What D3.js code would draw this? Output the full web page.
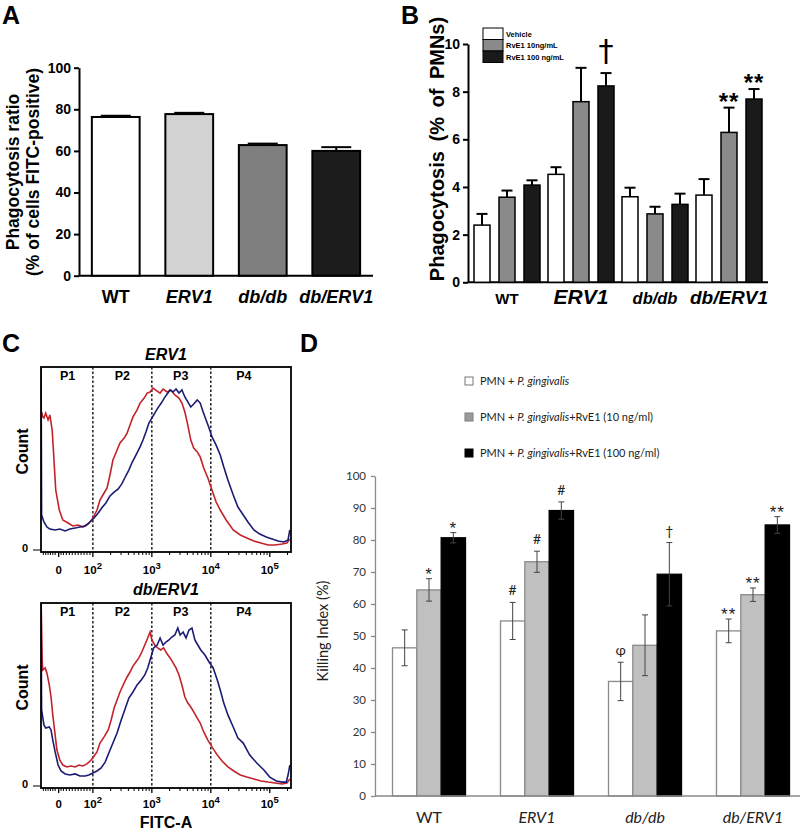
<!DOCTYPE html>
<html><head><meta charset="utf-8">
<script src="https://cdn.jsdelivr.net/npm/d3@7"></script>
<style>body{margin:0;background:#fff}svg{display:block}</style>
</head><body>
<svg id="fig" width="800" height="833"></svg>
<script>
// ---------------- DATA ----------------
const groups = ["WT", "ERV1", "db/db", "db/ERV1"];
const groupItalic = [false, true, true, true];

// Panel A
const aValues = [76.3, 77.7, 62.8, 60.0];
const aErrors = [0.6, 0.6, 0.7, 1.8];
const aTicks = [0, 20, 40, 60, 80, 100];
const aColors = ["#ffffff", "#d2d2d2", "#7f7f7f", "#1c1c1c"];

// Panel B
const bSeries = ["Vehicle", "RvE1 10ng/mL", "RvE1 100 ng/mL"];
const bVehicle = [2.40, 4.53, 3.59, 3.66];
const bVehicleErr = [0.47, 0.30, 0.38, 0.67];
const bRvE1_10 = [3.57, 7.58, 2.87, 6.29];
const bRvE1_10Err = [0.28, 1.42, 0.30, 1.04];
const bRvE1_100 = [4.08, 8.24, 3.27, 7.69];
const bRvE1_100Err = [0.20, 0.54, 0.45, 0.42];
const bTicks = [0, 2, 4, 6, 8, 10];
const bColors = ["#ffffff", "#8a8a8a", "#1a1a1a"];
const bMarks = [{g: 1, s: 2, t: "†"}, {g: 3, s: 1, t: "**"}, {g: 3, s: 2, t: "**"}];

// Panel C (FITC-A histograms, x in decades, count in % of plot height)
const fitcTickVals = [1.42, 2, 3, 4, 5];
const fitcTickBase = ["0", "10", "10", "10", "10"];
const fitcTickExp = ["", "2", "3", "4", "5"];
const fitcLinearMinor = [1.16, 1.2, 1.24, 1.28, 1.32, 1.36, 1.46, 1.5, 1.55, 1.6, 1.65, 1.7, 1.75, 1.8, 1.85, 1.9, 1.95];
const fitcDecades = [2, 3, 4, 5];
const fitcMultipliers = [2, 3, 4, 5, 6, 7, 8, 9];
const gateBounds = [2, 3, 4];
const gateLabels = ["P1", "P2", "P3", "P4"];
const gateLabelPos = [1.57, 2.5, 3.49, 4.56];

const erv1Red = [[1.13,75.7],[1.15,73],[1.17,72.4],[1.20,75.1],[1.24,71.4],[1.27,74.1],[1.31,65.9],[1.34,49.7],[1.37,33.5],[1.43,22.7],[1.49,17.3],[1.58,15.7],[1.66,14.1],[1.75,14.6],[1.83,13.5],[1.92,15.1],[1.99,17.8],[2.07,22.7],[2.12,28.1],[2.19,31.9],[2.24,34.6],[2.29,41.6],[2.34,49.7],[2.41,55.1],[2.46,58.9],[2.53,61.6],[2.58,64.3],[2.63,68.6],[2.68,73.0],[2.75,76.8],[2.80,80.5],[2.87,83.2],[2.92,85.9],[2.97,86.5],[3.02,88.6],[3.09,87.0],[3.14,85.9],[3.19,88.1],[3.26,86.5],[3.32,87.6],[3.39,84.9],[3.46,83.2],[3.51,80.5],[3.56,75.7],[3.61,68.6],[3.66,60.5],[3.71,56.2],[3.77,54.1],[3.82,51.4],[3.88,45.4],[3.95,40.0],[4.02,33.5],[4.09,27.0],[4.16,22.7],[4.26,17.3],[4.38,11.9],[4.50,9.2],[4.61,7.6],[4.73,5.9],[4.85,4.9],[4.97,3.8],[5.09,3.8],[5.21,4.3],[5.29,4.9],[5.34,7.0]];
const erv1Blue = [[1.12,120],[1.13,20.0],[1.17,16.2],[1.22,13.5],[1.27,12.4],[1.36,11.9],[1.44,12.4],[1.53,11.4],[1.61,12.4],[1.70,13.0],[1.78,13.5],[1.87,14.1],[1.95,16.2],[2.02,18.4],[2.09,21.1],[2.15,23.8],[2.22,26.5],[2.29,30.3],[2.36,32.4],[2.43,34.1],[2.49,36.8],[2.54,40.0],[2.61,44.3],[2.66,48.1],[2.73,52.4],[2.80,56.8],[2.85,60.5],[2.90,64.9],[2.95,69.7],[3.00,72.4],[3.05,75.1],[3.10,77.8],[3.16,80.5],[3.21,83.2],[3.26,85.4],[3.31,87.6],[3.36,86.5],[3.41,88.1],[3.46,85.9],[3.51,87.6],[3.56,83.8],[3.61,81.1],[3.66,78.4],[3.71,80.0],[3.77,82.2],[3.82,80.5],[3.87,75.7],[3.92,71.4],[3.97,67.0],[4.02,62.2],[4.09,57.8],[4.16,52.4],[4.22,45.9],[4.29,38.9],[4.38,30.8],[4.46,24.3],[4.55,20.0],[4.63,16.2],[4.73,11.9],[4.83,9.7],[4.94,8.1],[5.04,7.0],[5.14,5.9],[5.24,5.4],[5.31,6.5],[5.34,11.9]];
const dbErv1Red = [[1.12,105],[1.14,69.2],[1.15,63.8],[1.19,64.9],[1.22,62.2],[1.26,55.7],[1.29,49.2],[1.32,39.5],[1.36,28.6],[1.39,20.5],[1.44,15.1],[1.49,12.4],[1.56,11.4],[1.63,11.9],[1.70,11.4],[1.76,12.4],[1.83,11.9],[1.90,13.0],[1.97,15.1],[2.02,17.3],[2.07,19.5],[2.12,24.3],[2.19,27.6],[2.26,31.4],[2.31,36.8],[2.36,43.2],[2.41,47.6],[2.46,51.9],[2.53,56.8],[2.58,60.0],[2.63,62.7],[2.68,65.9],[2.73,68.1],[2.78,70.3],[2.83,73.5],[2.88,77.3],[2.93,81.1],[2.97,84.3],[3.00,80.0],[3.05,77.3],[3.10,75.7],[3.15,74.6],[3.20,75.7],[3.26,72.4],[3.31,70.3],[3.36,67.6],[3.41,64.9],[3.46,61.1],[3.51,55.7],[3.56,49.2],[3.61,45.9],[3.66,43.8],[3.71,41.1],[3.77,37.8],[3.82,35.1],[3.88,30.3],[3.95,25.9],[4.02,22.2],[4.11,17.8],[4.19,14.6],[4.29,11.4],[4.39,9.2],[4.50,7.0],[4.61,5.9],[4.73,4.9],[4.85,3.8],[4.97,3.2],[5.09,2.7],[5.21,2.2],[5.29,2.7],[5.34,4.9]];
const dbErv1Blue = [[1.12,105],[1.13,42.2],[1.17,34.1],[1.20,32.4],[1.26,33.0],[1.29,31.4],[1.32,25.9],[1.36,19.5],[1.41,12.4],[1.46,9.2],[1.53,7.6],[1.61,7.0],[1.70,7.6],[1.78,6.5],[1.87,6.5],[1.93,7.0],[2.00,8.1],[2.07,9.2],[2.14,10.8],[2.21,14.1],[2.27,18.9],[2.34,24.3],[2.41,29.7],[2.48,36.8],[2.54,42.2],[2.61,48.6],[2.68,51.9],[2.75,55.7],[2.82,58.4],[2.88,61.1],[2.93,64.9],[2.98,70.3],[3.03,75.7],[3.09,77.3],[3.14,81.1],[3.19,77.3],[3.24,78.9],[3.29,80.0],[3.34,81.6],[3.39,82.7],[3.44,86.5],[3.48,82.7],[3.53,84.3],[3.58,81.1],[3.63,85.4],[3.68,86.5],[3.73,80.0],[3.78,77.3],[3.83,74.6],[3.90,71.9],[3.97,68.1],[4.04,64.9],[4.11,58.4],[4.16,53.0],[4.22,45.9],[4.29,39.5],[4.38,33.0],[4.46,27.0],[4.55,24.3],[4.66,17.8],[4.78,13.5],[4.90,9.7],[5.00,5.9],[5.11,3.8],[5.21,3.2],[5.28,3.2],[5.31,7.0],[5.34,12.4]];

// Panel D
const dSeries = ["PMN + |P. gingivalis|", "PMN + |P. gingivalis|+RvE1 (10 ng/ml)", "PMN + |P. gingivalis|+RvE1 (100 ng/ml)"];
const dPg = [46.3, 54.7, 35.8, 51.6];
const dPgErr = [5.6, 5.8, 6.0, 3.7];
const dRv10 = [64.4, 73.2, 47.1, 62.9];
const dRv10Err = [3.5, 3.3, 9.5, 2.1];
const dRv100 = [80.7, 89.2, 69.3, 84.7];
const dRv100Err = [1.6, 2.7, 9.9, 2.6];
const dTicks = [0, 10, 20, 30, 40, 50, 60, 70, 80, 90, 100];
const dColors = ["#ffffff", "#c0c0c0", "#000000"];
const dMarks = [{g:0,s:1,t:"*"},{g:0,s:2,t:"*"},{g:1,s:0,t:"#"},{g:1,s:1,t:"#"},{g:1,s:2,t:"#"},{g:2,s:0,t:"φ"},{g:2,s:2,t:"†"},{g:3,s:0,t:"**"},{g:3,s:1,t:"**"},{g:3,s:2,t:"**"}];

// ---------------- DRAW ----------------
const ARIAL = "'Liberation Sans', Arial, Helvetica, sans-serif";
const CAL = "Lato, 'Open Sans', sans-serif";
const svg = d3.select("#fig");
svg.append("rect").attr("width", 800).attr("height", 833).attr("fill", "#fff");

[["A", 2, 24], ["B", 401, 24], ["C", 2, 352], ["D", 300, 352]].forEach(([t, x, y]) => {
  svg.append("text").attr("x", x).attr("y", y).text(t)
    .attr("font-family", ARIAL).attr("font-weight", "bold").attr("font-size", 25);
});

function styleAxis(g, opts) {
  g.select(".domain").attr("stroke", opts.color).attr("stroke-width", opts.width);
  g.selectAll(".tick line").attr("stroke", opts.color).attr("stroke-width", opts.width);
  g.selectAll(".tick text").attr("font-family", opts.font).attr("font-size", opts.size)
    .attr("font-weight", opts.weight).attr("fill", opts.textColor || "#000");
}

// ===== Panel A =====
(function () {
  const x = d3.scaleBand().domain(groups).range([79, 373]).paddingInner(0.35).paddingOuter(0.175);
  const y = d3.scaleLinear().domain([0, 100]).range([275.7, 67.7]);
  const g = svg.append("g");
  g.append("g").attr("transform", "translate(79,0)")
    .call(d3.axisLeft(y).tickValues(aTicks).tickSize(5).tickSizeOuter(0).tickPadding(3))
    .call(a => styleAxis(a, {color: "#000", width: 2, font: ARIAL, size: 14, weight: "bold"}));
  g.append("line").attr("x1", 79).attr("x2", 373).attr("y1", y(0)).attr("y2", y(0))
    .attr("stroke", "#000").attr("stroke-width", 2);
  groups.forEach((gr, i) => {
    const cx = x(gr) + x.bandwidth() / 2;
    g.append("line").attr("x1", cx).attr("x2", cx).attr("y1", y(aValues[i])).attr("y2", y(aValues[i] + aErrors[i]))
      .attr("stroke", "#000").attr("stroke-width", 2);
    g.append("line").attr("x1", cx - 15).attr("x2", cx + 15).attr("y1", y(aValues[i] + aErrors[i])).attr("y2", y(aValues[i] + aErrors[i]))
      .attr("stroke", "#000").attr("stroke-width", 2);
    g.append("rect").attr("x", x(gr)).attr("y", y(aValues[i])).attr("width", x.bandwidth())
      .attr("height", y(0) - y(aValues[i])).attr("fill", aColors[i]).attr("stroke", "#000").attr("stroke-width", 2);
    g.append("text").attr("x", cx).attr("y", 303).attr("text-anchor", "middle").text(gr)
      .attr("font-family", ARIAL).attr("font-weight", "bold").attr("font-size", 18)
      .attr("font-style", groupItalic[i] ? "italic" : "normal");
  });
  g.append("text").attr("transform", "translate(19,172) rotate(-90)").attr("text-anchor", "middle")
    .text("Phagocytosis ratio").attr("font-family", ARIAL).attr("font-weight", "bold").attr("font-size", 17.5);
  g.append("text").attr("transform", "translate(39,172) rotate(-90)").attr("text-anchor", "middle")
    .text("(% of cells FITC-positive)").attr("font-family", ARIAL).attr("font-weight", "bold").attr("font-size", 17.5);
})();

// ===== Panel B =====
(function () {
  const vals = [bVehicle, bRvE1_10, bRvE1_100];
  const errs = [bVehicleErr, bRvE1_10Err, bRvE1_100Err];
  const x0 = d3.scaleBand().domain(groups).range([468, 768]).paddingInner(0.108).paddingOuter(0.081);
  const x1 = d3.scaleBand().domain(bSeries).range([0, x0.bandwidth()]).paddingInner(0.36).paddingOuter(0);
  const y = d3.scaleLinear().domain([0, 10]).range([282.3, 44]);
  const g = svg.append("g");
  g.append("g").attr("transform", "translate(468,0)")
    .call(d3.axisLeft(y).tickValues(bTicks).tickSize(5).tickSizeOuter(0).tickPadding(3))
    .call(a => styleAxis(a, {color: "#000", width: 2, font: ARIAL, size: 14, weight: "bold"}));
  g.append("line").attr("x1", 468).attr("x2", 768).attr("y1", y(0)).attr("y2", y(0))
    .attr("stroke", "#000").attr("stroke-width", 2);
  groups.forEach((gr, i) => {
    bSeries.forEach((s, j) => {
      const v = vals[j][i], e = errs[j][i];
      const bx = x0(gr) + x1(s), cx = bx + x1.bandwidth() / 2;
      g.append("line").attr("x1", cx).attr("x2", cx).attr("y1", y(v)).attr("y2", y(v + e))
        .attr("stroke", "#000").attr("stroke-width", 2);
      g.append("line").attr("x1", cx - 5.5).attr("x2", cx + 5.5).attr("y1", y(v + e)).attr("y2", y(v + e))
        .attr("stroke", "#000").attr("stroke-width", 2);
      g.append("rect").attr("x", bx).attr("y", y(v)).attr("width", x1.bandwidth()).attr("height", y(0) - y(v))
        .attr("fill", bColors[j]).attr("stroke", "#000").attr("stroke-width", 1.5);
    });
  });
  const labSizes = [15, 21, 16.5, 19];
  groups.forEach((gr, i) => {
    g.append("text").attr("x", x0(gr) + x0.bandwidth() / 2).attr("y", 304).attr("text-anchor", "middle").text(gr)
      .attr("font-family", ARIAL).attr("font-weight", "bold").attr("font-size", labSizes[i])
      .attr("font-style", groupItalic[i] ? "italic" : "normal");
  });
  bMarks.forEach(m => {
    const s = bSeries[m.s];
    const cx = x0(groups[m.g]) + x1(s) + x1.bandwidth() / 2;
    const top = y(vals[m.s][m.g] + errs[m.s][m.g]);
    if (m.t === "†") {
      g.append("text").attr("x", cx).attr("y", top - 12).attr("text-anchor", "middle").text(m.t)
        .attr("font-family", "'DejaVu Sans', sans-serif").attr("font-size", 30);
    } else {
      g.append("text").attr("x", cx).attr("y", top + 2).attr("text-anchor", "middle").text(m.t)
        .attr("font-family", ARIAL).attr("font-weight", "bold").attr("font-size", 24).attr("letter-spacing", 1);
    }
  });
  bSeries.forEach((s, j) => {
    const yy = [28, 39.5, 51][j];
    g.append("rect").attr("x", 483).attr("y", yy).attr("width", 20).attr("height", 11.5)
      .attr("fill", bColors[j]).attr("stroke", "#000").attr("stroke-width", 1);
    g.append("text").attr("x", 506).attr("y", yy + 8.5).text(s)
      .attr("font-family", ARIAL).attr("font-weight", "bold").attr("font-size", 7.5);
  });
  g.append("text").attr("transform", "translate(444,149) rotate(-90)").attr("text-anchor", "middle")
    .text("Phagocytosis (% of PMNs)").attr("font-family", ARIAL).attr("font-weight", "bold")
    .attr("font-size", 20).attr("word-spacing", 4);
})();

// ===== Panel C =====
function drawFlow(box, title, titleY, red, blue, tickLabelY, showFitc) {
  const x = d3.scaleLinear().domain([1.12, 5.36]).range([box.x0, box.x1]);
  const y = d3.scaleLinear().domain([0, 100]).range([box.y1, box.y0]);
  const g = svg.append("g");
  const cid = "clip" + Math.round(box.y0);
  g.append("clipPath").attr("id", cid).append("rect")
    .attr("x", box.x0).attr("y", box.y0).attr("width", box.x1 - box.x0).attr("height", box.y1 - box.y0);
  gateBounds.forEach(b => {
    g.append("line").attr("x1", x(b)).attr("x2", x(b)).attr("y1", box.y0).attr("y2", box.y1)
      .attr("stroke", "#000").attr("stroke-width", 1.3).attr("stroke-dasharray", "2.5,2");
  });
  gateLabels.forEach((p, i) => {
    g.append("text").attr("x", x(gateLabelPos[i])).attr("y", box.y0 + 13).attr("text-anchor", "middle").text(p)
      .attr("font-family", ARIAL).attr("font-weight", "bold").attr("font-size", 12.5);
  });
  const line = d3.line().x(d => x(d[0])).y(d => y(d[1]));
  g.append("path").datum(red).attr("d", line).attr("fill", "none").attr("stroke", "#c4222b")
    .attr("stroke-width", 1.6).attr("clip-path", `url(#${cid})`);
  g.append("path").datum(blue).attr("d", line).attr("fill", "none").attr("stroke", "#1b1b74")
    .attr("stroke-width", 1.6).attr("clip-path", `url(#${cid})`);
  g.append("rect").attr("x", box.x0).attr("y", box.y0).attr("width", box.x1 - box.x0).attr("height", box.y1 - box.y0)
    .attr("fill", "none").attr("stroke", "#000").attr("stroke-width", 1.8);
  const minor = fitcLinearMinor.slice();
  fitcDecades.forEach(d => fitcMultipliers.forEach(m => { const v = d + Math.log10(m); if (v < 5.36) minor.push(v); }));
  minor.forEach(v => {
    g.append("line").attr("x1", x(v)).attr("x2", x(v)).attr("y1", box.y1).attr("y2", box.y1 + 3)
      .attr("stroke", "#000").attr("stroke-width", 1);
  });
  fitcTickVals.forEach((v, i) => {
    g.append("line").attr("x1", x(v)).attr("x2", x(v)).attr("y1", box.y1).attr("y2", box.y1 + 5)
      .attr("stroke", "#000").attr("stroke-width", 1.3);
    const t = g.append("text").attr("x", x(v)).attr("y", tickLabelY).attr("text-anchor", "middle")
      .attr("font-family", ARIAL).attr("font-weight", "bold").attr("font-size", 11.5);
    t.append("tspan").text(fitcTickBase[i]);
    if (fitcTickExp[i]) t.append("tspan").attr("dy", -5).attr("font-size", 9.5).text(fitcTickExp[i]);
  });
  g.append("text").attr("x", 25).attr("y", box.y1).attr("text-anchor", "middle").text("0")
    .attr("font-family", ARIAL).attr("font-weight", "bold").attr("font-size", 11);
  g.append("line").attr("x1", 33).attr("x2", box.x0).attr("y1", box.y1 - 2).attr("y2", box.y1 - 2)
    .attr("stroke", "#000").attr("stroke-width", 1);
  g.append("text").attr("transform", `translate(28,${(box.y0 + box.y1) / 2 - 8}) rotate(-90)`).attr("text-anchor", "middle")
    .text("Count").attr("font-family", ARIAL).attr("font-weight", "bold").attr("font-size", 16);
  g.append("text").attr("x", (box.x0 + box.x1) / 2).attr("y", titleY).attr("text-anchor", "middle")
    .attr("font-family", ARIAL).attr("font-weight", "bold").attr("font-style", "italic").attr("font-size", 16).text(title);
  if (showFitc) {
    g.append("text").attr("x", 166).attr("y", 828).attr("text-anchor", "middle").text("FITC-A")
      .attr("font-family", ARIAL).attr("font-weight", "bold").attr("font-size", 16);
  }
}
drawFlow({x0: 41, x1: 291, y0: 367, y1: 552}, "ERV1", 360, erv1Red, erv1Blue, 574, false);
drawFlow({x0: 41, x1: 291, y0: 603, y1: 788}, "db/ERV1", 595, dbErv1Red, dbErv1Blue, 808, true);

// ===== Panel D =====
(function () {
  const vals = [dPg, dRv10, dRv100];
  const errs = [dPgErr, dRv10Err, dRv100Err];
  const x0 = d3.scaleBand().domain(groups).range([375, 807]).paddingInner(0.324).paddingOuter(0.162);
  const x1 = d3.scaleBand().domain([0, 1, 2]).range([0, x0.bandwidth()]).padding(0);
  const y = d3.scaleLinear().domain([0, 100]).range([796, 476]);
  const g = svg.append("g");
  g.append("g").attr("transform", "translate(375,0)")
    .call(d3.axisLeft(y).tickValues(dTicks).tickSize(4).tickSizeOuter(0).tickPadding(5))
    .call(a => styleAxis(a, {color: "#8a8a8a", width: 1.3, font: CAL, size: 11.5, weight: "normal", textColor: "#333"}));
  groups.forEach((gr, i) => {
    [0, 1, 2].forEach(j => {
      const v = vals[j][i], e = errs[j][i];
      const bx = x0(gr) + x1(j), cx = bx + x1.bandwidth() / 2;
      g.append("rect").attr("x", bx).attr("y", y(v)).attr("width", x1.bandwidth()).attr("height", y(0) - y(v))
        .attr("fill", dColors[j]).attr("stroke", j === 2 ? "#000" : "#8a8a8a").attr("stroke-width", 1.3);
      const ec = "#444";
      g.append("line").attr("x1", cx).attr("x2", cx).attr("y1", y(v - e)).attr("y2", y(v + e)).attr("stroke", ec).attr("stroke-width", 1);
      [v - e, v + e].forEach(w => g.append("line").attr("x1", cx - 3).attr("x2", cx + 3).attr("y1", y(w)).attr("y2", y(w))
        .attr("stroke", ec).attr("stroke-width", 1));
    });
    g.append("text").attr("x", x0(gr) + x0.bandwidth() / 2).attr("y", 823).attr("text-anchor", "middle").text(gr)
      .attr("font-family", CAL).attr("font-size", 16).attr("fill", "#222")
      .attr("font-style", groupItalic[i] ? "italic" : "normal");
  });
  g.append("line").attr("x1", 375).attr("x2", 800).attr("y1", y(0)).attr("y2", y(0)).attr("stroke", "#8a8a8a").attr("stroke-width", 1.5);
  dMarks.forEach(m => {
    const cx = x0(groups[m.g]) + x1(m.s) + x1.bandwidth() / 2;
    const top = y(vals[m.s][m.g] + errs[m.s][m.g]);
    const isStar = m.t.indexOf("*") >= 0;
    g.append("text").attr("x", cx).attr("y", isStar ? top + 1 : top - 7).attr("text-anchor", "middle").text(m.t)
      .attr("font-family", isStar ? ARIAL : CAL).attr("font-size", isStar ? 17 : 14).attr("fill", "#222")
      .attr("letter-spacing", isStar ? 1 : 0);
  });
  dSeries.forEach((s, j) => {
    const yy = [381, 417, 453][j];
    g.append("rect").attr("x", 465).attr("y", yy - 4).attr("width", 8).attr("height", 8)
      .attr("fill", dColors[j]).attr("stroke", j === 2 ? "#000" : "#777").attr("stroke-width", 1);
    if (j === 1) {
      [2, 4, 6].forEach(k => {
        g.append("line").attr("x1", 465).attr("x2", 473).attr("y1", yy - 4 + k).attr("y2", yy - 4 + k).attr("stroke", "#777").attr("stroke-width", 0.6);
        g.append("line").attr("x1", 465 + k).attr("x2", 465 + k).attr("y1", yy - 4).attr("y2", yy + 4).attr("stroke", "#777").attr("stroke-width", 0.6);
      });
    }
    const t = g.append("text").attr("x", 480).attr("y", yy + 4).attr("font-family", CAL).attr("font-size", 11).attr("fill", "#222");
    s.split("|").forEach((part, k) => t.append("tspan").text(part).attr("font-style", k === 1 ? "italic" : "normal"));
  });
  g.append("text").attr("transform", "translate(328,631) rotate(-90)").attr("text-anchor", "middle")
    .text("Killing Index (%)").attr("font-family", CAL).attr("font-size", 14.5).attr("fill", "#222");
})();
</script></body></html>
